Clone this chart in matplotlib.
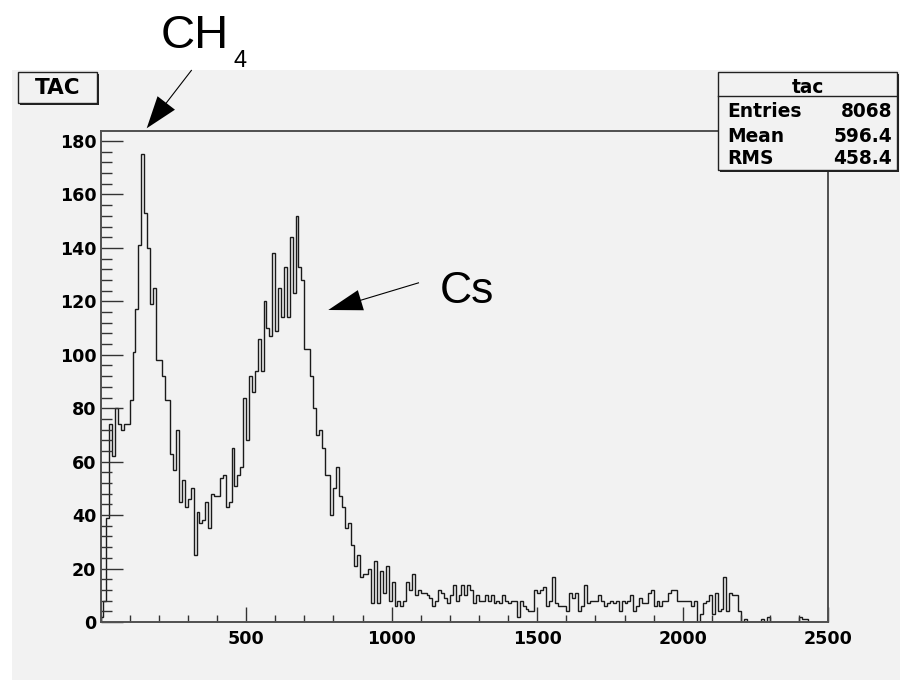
import matplotlib
matplotlib.use("Agg")
import matplotlib.pyplot as plt
from matplotlib.patches import Rectangle, FancyArrow
from matplotlib.ticker import MultipleLocator
import numpy as np

# histogram "tac": 250 bins of width 10 from 0 to 2500
x_lo, x_hi, n_bins = 0, 2500, 250
counts = [
    2, 8, 39, 74, 62, 80, 74, 72, 74, 74,
    83, 101, 117, 141, 175, 153, 140, 119, 125, 98,
    98, 92, 83, 83, 63, 57, 72, 45, 53, 43,
    46, 50, 25, 41, 37, 38, 45, 35, 48, 47,
    47, 54, 55, 43, 45, 65, 51, 55, 58, 84,
    68, 92, 86, 94, 106, 94, 120, 110, 107, 138,
    109, 125, 114, 133, 114, 144, 123, 152, 133, 128,
    102, 102, 92, 80, 70, 72, 65, 55, 55, 40,
    50, 58, 47, 43, 35, 37, 29, 21, 25, 17,
    18, 18, 20, 7, 23, 7, 19, 11, 21, 8,
    15, 6, 8, 6, 8, 15, 12, 18, 10, 12,
    11, 11, 10, 9, 6, 8, 12, 11, 9, 7,
    10, 14, 8, 10, 14, 10, 14, 12, 7, 10,
    8, 8, 10, 8, 10, 7, 8, 7, 10, 8,
    7, 8, 8, 2, 8, 6, 5, 4, 4, 12,
    11, 12, 13, 6, 8, 17, 7, 6, 6, 6,
    4, 11, 9, 11, 4, 6, 14, 7, 8, 8,
    8, 10, 8, 6, 7, 8, 7, 8, 4, 8,
    7, 8, 10, 4, 6, 9, 7, 7, 11, 12,
    6, 8, 6, 8, 8, 11, 12, 12, 8, 8,
    8, 8, 8, 6, 8, 0, 3, 7, 8, 10,
    3, 11, 4, 5, 17, 4, 11, 10, 10, 4,
    0, 1, 0, 0, 0, 0, 0, 1, 0, 2,
    0, 0, 0, 0, 0, 0, 0, 0, 0, 0,
    2, 1, 1, 0, 0, 0, 0, 0, 0, 0,
]

x_ticks = [500, 1000, 1500, 2000, 2500]
y_ticks = [0, 20, 40, 60, 80, 100, 120, 140, 160, 180]

hist_name = "tac"
pad_title = "TAC"
stat_names = ["Entries", "Mean", "RMS"]
stat_values = ["8068", "596.4", "458.4"]

W, H = 900, 680
BG = "#f2f2f2"


def fx(px):
    return px / W


def fy(py):
    return 1 - py / H


fig = plt.figure(figsize=(9, 6.8), dpi=100)
fig.patch.set_facecolor("white")

# grey canvas pad (behind the axes)
fig.patches.append(Rectangle((fx(12), 0), 1 - fx(12), fy(70),
                             transform=fig.transFigure, facecolor=BG,
                             edgecolor="none", zorder=-5))

ax = fig.add_axes([fx(100.5), fy(622), fx(828.3) - fx(100.5), fy(131) - fy(622)])
ax.set_facecolor(BG)

edges = np.linspace(x_lo, x_hi, n_bins + 1)
ax.stairs(counts, edges, color="#1a1a1a", lw=1.0)

ax.set_xlim(x_lo, x_hi)
ax.set_ylim(0, max(counts) * 1.05)

for s in ax.spines.values():
    s.set_color("#505050")
    s.set_linewidth(1.4)

ax.set_xticks(x_ticks)
ax.set_xticklabels([str(v) for v in x_ticks], fontweight="bold",
                   fontsize=12.6, family="DejaVu Sans")
ax.set_yticks(y_ticks)
ax.set_yticklabels([str(v) for v in y_ticks], fontweight="bold",
                   fontsize=12.6, family="DejaVu Sans")
ax.xaxis.set_minor_locator(MultipleLocator(100))
ax.yaxis.set_minor_locator(MultipleLocator(4))

ax.tick_params(axis="y", which="major", direction="in", length=15.8,
               width=1, color="#333333", pad=3)
ax.tick_params(axis="y", which="minor", direction="in", length=7.9,
               width=1, color="#333333")
ax.tick_params(axis="x", which="major", direction="in", length=10.6,
               width=1, color="#333333", pad=6)
ax.tick_params(axis="x", which="minor", direction="in", length=5.3,
               width=1, color="#333333")


def box(x0, y0, x1, y1, shadow=2):
    fig.patches.append(Rectangle((fx(x0 + shadow), fy(y1 + shadow)),
                                 fx(x1) - fx(x0), fy(y0) - fy(y1),
                                 transform=fig.transFigure, facecolor="#222222",
                                 edgecolor="none", zorder=5))
    fig.patches.append(Rectangle((fx(x0), fy(y1)), fx(x1) - fx(x0),
                                 fy(y0) - fy(y1), transform=fig.transFigure,
                                 facecolor=BG, edgecolor="#222222", lw=1,
                                 zorder=6))


# title box
box(18, 72, 97, 103)
fig.text(fx(57.5), fy(88), pad_title, ha="center", va="center", fontsize=15.5,
         fontweight="bold", family="DejaVu Sans", zorder=7)

# stats box
box(718.3, 71.7, 897, 170)
fig.add_artist(plt.Line2D([fx(718.3), fx(897)], [fy(96), fy(96)],
                          transform=fig.transFigure, color="#222222", lw=1,
                          zorder=7))
fig.text(fx(808), fy(93.3), hist_name, ha="center", va="baseline",
         fontsize=13.4, fontweight="bold", family="DejaVu Sans", zorder=7)
for i, (nm, val) in enumerate(zip(stat_names, stat_values)):
    yb = [116.7, 141.7, 164.3][i]
    fig.text(fx(727), fy(yb), nm, ha="left", va="baseline", fontsize=13.4,
             fontweight="bold", family="DejaVu Sans", zorder=7)
    fig.text(fx(892), fy(yb), val, ha="right", va="baseline", fontsize=13.4,
             fontweight="bold", family="DejaVu Sans", zorder=7)


def arrow(x0, y0, x1, y1, hl, hw):
    a = FancyArrow(x0 / 100, (H - y0) / 100, (x1 - x0) / 100, -(y1 - y0) / 100,
                   width=0.011, head_width=hw / 100, head_length=hl / 100,
                   length_includes_head=True, color="black", lw=0,
                   transform=fig.dpi_scale_trans, zorder=8)
    fig.add_artist(a)


# annotations
fig.text(fx(161), fy(48.3), "CH", ha="left", va="baseline", fontsize=34,
         family="Liberation Sans", zorder=8)
fig.text(fx(233), fy(66.7), "4", ha="left", va="baseline", fontsize=17,
         family="Liberation Sans", zorder=8)
arrow(191.7, 70, 146.7, 128.3, 32, 22)

fig.text(fx(440), fy(303.3), "Cs", ha="left", va="baseline", fontsize=32,
         family="Liberation Sans", zorder=8)
arrow(419, 282.7, 328.3, 310, 34, 21)

fig.savefig("out.png", dpi=100)
